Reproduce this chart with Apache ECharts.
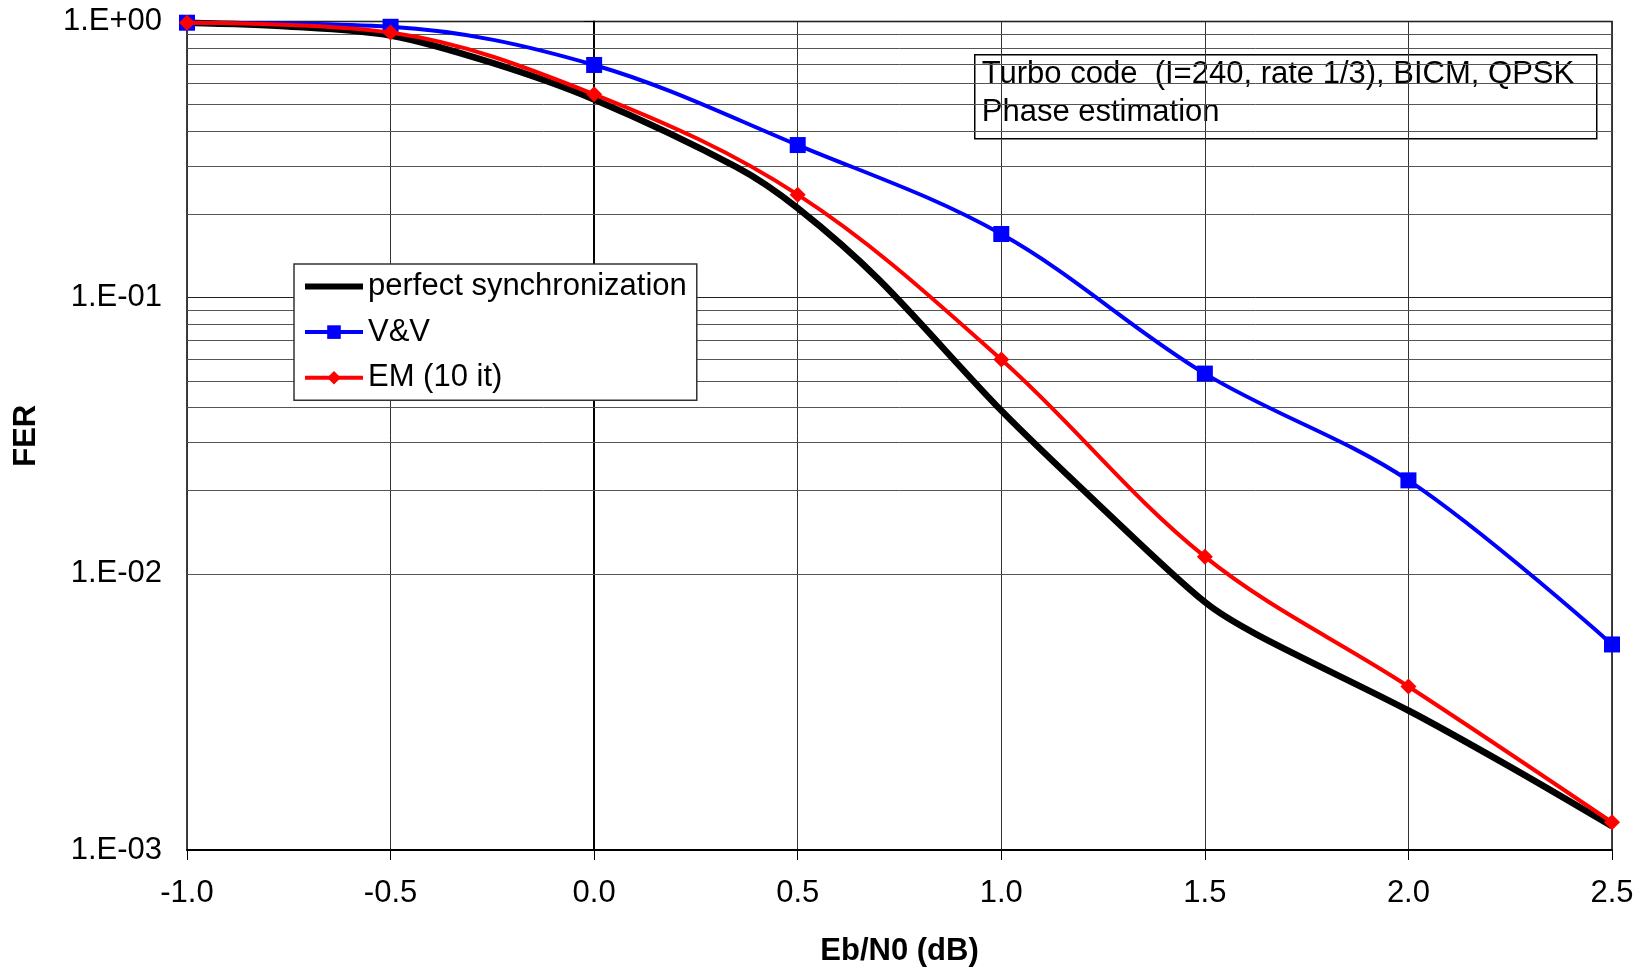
<!DOCTYPE html>
<html>
<head>
<meta charset="utf-8">
<script src="https://cdn.jsdelivr.net/npm/echarts@6/dist/echarts.min.js"></script>
<style>
  html, body { margin: 0; padding: 0; background: #fff; }
  #chart { width: 1646px; height: 972px; }
</style>
</head>
<body>
<div id="chart"></div>
<script>
// Eb/N0 points (dB) for the two estimators
const ebn0 = [-1.0, -0.5, 0.0, 0.5, 1.0, 1.5, 2.0, 2.5];
const vvFer = [0.99, 0.957, 0.696, 0.357, 0.170, 0.0531, 0.0218, 0.00555];
const emFer = [0.99, 0.912, 0.545, 0.236, 0.0597, 0.01154, 0.00391, 0.00126];

// perfect synchronization curve
const perfectEbn0 = [-1.0, -0.75, -0.5, -0.25, 0.0, 0.35, 0.5, 0.7, 1.0, 1.25, 1.5, 1.63, 2.0, 2.25, 2.5];
const perfectFer = [0.99, 0.96, 0.89, 0.708, 0.522, 0.297, 0.211, 0.116, 0.039, 0.0172, 0.0079, 0.006, 0.0032, 0.002, 0.00122];

const decades = [0.001, 0.01, 0.1];
const minorSteps = [2, 3, 4, 5, 6, 7, 8, 9];

const FONT = 'Liberation Sans, Arial, sans-serif';

function pairs(xs, ys) {
    return xs.map((x, i) => [x, ys[i]]);
}

function expLabel(v) {
    let e = Math.round(Math.log10(v));
    let s = String(Math.abs(e)).padStart(2, '0');
    return '1.E' + (e < 0 ? '-' : '+') + s;
}

// minor log grid lines (2..9 inside each decade)
let minorLines = [];
decades.forEach(d => {
    minorSteps.forEach(m => minorLines.push({ yAxis: d * m }));
});

let chartDom = document.getElementById('chart');
let myChart = echarts.init(chartDom);
let option;

option = {
    animation: false,
    backgroundColor: '#fff',
    textStyle: { fontFamily: FONT },
    grid: {
        left: 187,
        right: 34,
        top: 21.5,
        bottom: 121,
        show: true,
        borderColor: '#000',
        borderWidth: 1.5,
        backgroundColor: 'transparent'
    },
    legend: {
        orient: 'vertical',
        left: 294,
        top: 264,
        padding: [7, 10, 7, 8],
        itemGap: 14.6,
        itemWidth: 58,
        itemHeight: 17,
        backgroundColor: '#fff',
        borderColor: '#333',
        borderWidth: 1.5,
        borderRadius: 0,
        textStyle: { fontSize: 31, color: '#000', fontFamily: FONT, lineHeight: 30 },
        data: [
            {
                name: 'perfect synchronization',
                itemStyle: { opacity: 0 },
                lineStyle: { color: '#000', width: 6 }
            },
            {
                name: 'V&V',
                lineStyle: { color: '#0000ff', width: 4 }
            },
            {
                name: 'EM (10 it)',
                lineStyle: { color: '#ff0000', width: 4 }
            }
        ]
    },
    xAxis: {
        type: 'value',
        min: -1.0,
        max: 2.5,
        interval: 0.5,
        name: 'Eb/N0 (dB)',
        nameLocation: 'middle',
        nameGap: 86,
        nameTextStyle: { fontSize: 31, fontWeight: 'bold', color: '#000', fontFamily: FONT },
        axisLine: { show: true, onZero: false, lineStyle: { color: '#000', width: 2 } },
        axisTick: { show: true, inside: false, length: 10, lineStyle: { color: '#000', width: 1 } },
        axisLabel: {
            fontSize: 31,
            color: '#000',
            margin: 28,
            fontFamily: FONT,
            formatter: v => v.toFixed(1)
        },
        splitLine: { show: true, lineStyle: { color: '#333', width: 1 } }
    },
    yAxis: {
        type: 'log',
        logBase: 10,
        min: 0.001,
        max: 1,
        name: 'FER',
        nameLocation: 'middle',
        nameGap: 145,
        nameRotate: 90,
        nameTextStyle: { fontSize: 31, fontWeight: 'bold', color: '#000', fontFamily: FONT },
        axisLine: { show: true, lineStyle: { color: '#000', width: 2 } },
        axisTick: { show: true, inside: false, length: 10, lineStyle: { color: '#000', width: 1 } },
        axisLabel: {
            fontSize: 31,
            color: '#000',
            margin: 25,
            fontFamily: FONT,
            formatter: expLabel
        },
        splitLine: { show: true, lineStyle: { color: '#222', width: 1 } }
    },
    series: [
        {
            name: 'perfect synchronization',
            type: 'line',
            data: pairs(perfectEbn0, perfectFer),
            smooth: 0.3,
            symbol: 'none',
            clip: false,
            z: 3,
            lineStyle: { color: '#000', width: 6.5 },
            itemStyle: { color: '#000' },
            markLine: {
                silent: true,
                z: 1,
                symbol: 'none',
                label: { show: false },
                emphasis: { disabled: true },
                lineStyle: { color: '#555', width: 1, type: 'solid' },
                data: minorLines
            }
        },
        {
            name: 'V&V',
            type: 'line',
            data: pairs(ebn0, vvFer),
            smooth: 0.35,
            symbol: 'rect',
            symbolSize: 16,
            clip: false,
            z: 4,
            lineStyle: { color: '#0000ff', width: 4 },
            itemStyle: { color: '#0000ff' }
        },
        {
            name: 'EM (10 it)',
            type: 'line',
            data: pairs(ebn0, emFer),
            smooth: 0.35,
            symbol: 'diamond',
            symbolSize: 16,
            clip: false,
            z: 5,
            lineStyle: { color: '#ff0000', width: 4 },
            itemStyle: { color: '#ff0000' }
        }
    ],
    graphic: [
        {
            type: 'group',
            left: 974,
            top: 54,
            z: 100,
            children: [
                {
                    type: 'rect',
                    shape: { x: 0, y: 0, width: 622, height: 84 },
                    style: { fill: '#fff', stroke: '#000', lineWidth: 1.5 }
                },
                {
                    type: 'text',
                    x: 7,
                    y: 19.5,
                    style: {
                        text: 'Turbo code  (I=240, rate 1/3), BICM, QPSK',
                        font: '31px ' + FONT,
                        fill: '#000',
                        verticalAlign: 'middle'
                    }
                },
                {
                    type: 'text',
                    x: 7,
                    y: 58,
                    style: {
                        text: 'Phase estimation',
                        font: '31px ' + FONT,
                        fill: '#000',
                        verticalAlign: 'middle'
                    }
                }
            ]
        }
    ]
};

option && myChart.setOption(option);
</script>
</body>
</html>
